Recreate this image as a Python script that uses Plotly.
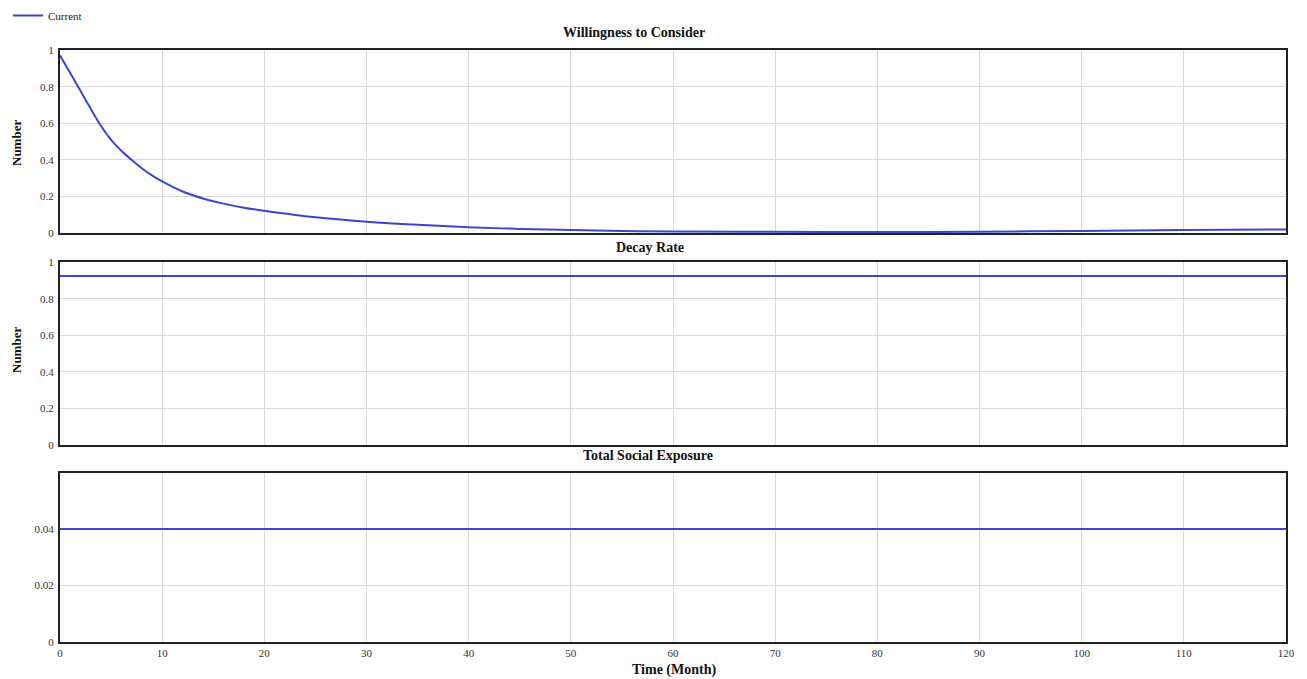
import plotly.graph_objects as go

# ---- data ----
time_w = [0, 1, 2, 3, 4, 5, 6, 7, 8, 9, 10, 12, 14, 16, 18, 20, 25, 30, 35, 40,
          45, 50, 55, 60, 70, 80, 90, 100, 110, 120]
willingness = [0.97, 0.875, 0.778, 0.68, 0.587, 0.51, 0.45, 0.401, 0.355, 0.316, 0.283,
               0.228, 0.19, 0.162, 0.14, 0.123, 0.087, 0.063, 0.046, 0.033,
               0.024, 0.018, 0.013, 0.010, 0.008, 0.007, 0.009, 0.013, 0.018, 0.021]
time_c = [0, 120]
decay_rate = [0.924, 0.924]
social_exposure = [0.04, 0.04]

x_ticks = [0, 10, 20, 30, 40, 50, 60, 70, 80, 90, 100, 110, 120]
y_ticks_12 = [0, 0.2, 0.4, 0.6, 0.8, 1]
y_ticks_3 = [0, 0.02, 0.04]

series_name = "Current"
titles = ["Willingness to Consider", "Decay Rate", "Total Social Exposure"]
x_title = "Time (Month)"
y_title = "Number"

# ---- layout helpers ----
W, H = 1307, 679
L, R, T, B = 60, 21, 50, 37
PW, PH = W - L - R, H - T - B

def px_x(px):
    return (px - L) / PW

def px_y(py):
    return (H - B - py) / PH

line_color = "#3d44d0"
serif = "Liberation Serif"

fig = go.Figure()
fig.add_trace(go.Scatter(x=time_w, y=willingness, mode="lines", name=series_name,
                         line=dict(color=line_color, width=2, shape="spline", smoothing=1.0),
                         xaxis="x", yaxis="y", showlegend=True))
fig.add_trace(go.Scatter(x=time_c, y=decay_rate, mode="lines", name=series_name,
                         line=dict(color=line_color, width=2),
                         xaxis="x2", yaxis="y2", showlegend=False))
fig.add_trace(go.Scatter(x=time_c, y=social_exposure, mode="lines", name=series_name,
                         line=dict(color=line_color, width=2),
                         xaxis="x3", yaxis="y3", showlegend=False))

domains = [
    [px_y(233.3), px_y(50)],
    [px_y(445.3), px_y(262)],
    [px_y(641.7), px_y(472.7)],
]

axis_common = dict(showline=True, linecolor="#222", linewidth=2, mirror=True,
                   showgrid=True, gridcolor="#d9d9d9", gridwidth=1, zeroline=False,
                   ticks="", automargin=False,
                   tickfont=dict(family=serif, size=11, color="#333"))

layout = dict(
    width=W, height=H,
    margin=dict(l=L, r=R, t=T, b=B, autoexpand=False),
    paper_bgcolor="white", plot_bgcolor="white",
    showlegend=True,
    legend=dict(x=px_x(8), y=px_y(1), xanchor="left", yanchor="top",
                font=dict(family=serif, size=11, color="#222"),
                bgcolor="rgba(0,0,0,0)", itemwidth=30),
)
for i in range(3):
    sfx = "" if i == 0 else str(i + 1)
    xa = dict(axis_common, domain=[0, 1], range=[0, 120], tickvals=x_ticks,
              anchor="y" + sfx, showticklabels=(i == 2))
    if i > 0:
        xa["matches"] = "x"
    ya = dict(axis_common, domain=domains[i], anchor="x" + sfx,
              range=[0, 1] if i < 2 else [0, 0.06],
              tickvals=y_ticks_12 if i < 2 else y_ticks_3,
              ticklabelstandoff=2)
    layout["xaxis" + sfx] = xa
    layout["yaxis" + sfx] = ya

fig.update_layout(**layout)

title_font = dict(family=serif, size=14, color="#111")
title_pos = [(634, 33), (650, 247), (648, 456)]
for t, (tx, ty) in zip(titles, title_pos):
    fig.add_annotation(text="<b>%s</b>" % t, x=px_x(tx), y=px_y(ty), xref="paper", yref="paper",
                       showarrow=False, font=title_font, xanchor="center", yanchor="middle")
fig.add_annotation(text="<b>%s</b>" % x_title, x=px_x(674), y=px_y(670), xref="paper", yref="paper",
                   showarrow=False, font=title_font, xanchor="center", yanchor="middle")
for ty in (143, 350):
    fig.add_annotation(text="<b>%s</b>" % y_title, x=px_x(16), y=px_y(ty), xref="paper", yref="paper",
                       showarrow=False, font=dict(family=serif, size=13, color="#111"),
                       textangle=-90, xanchor="center", yanchor="middle")

fig.write_html("out.html", config={"displayModeBar": False},
               post_script="document.body.style.margin='0';document.body.style.overflow='hidden';")
